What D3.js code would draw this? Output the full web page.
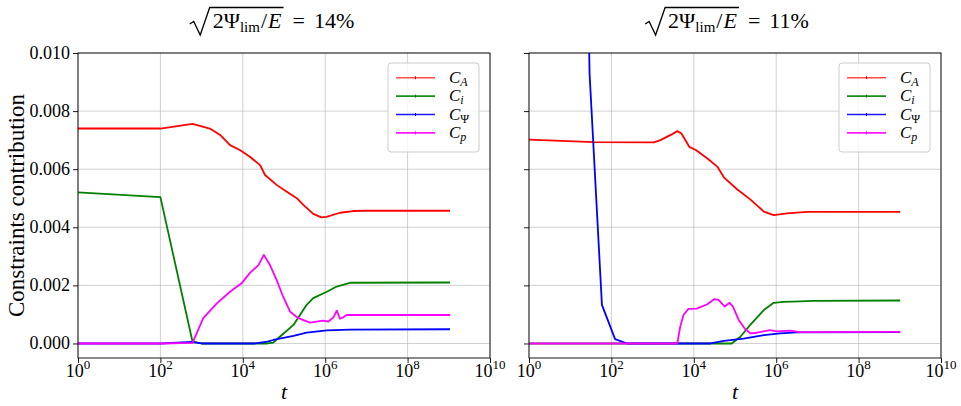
<!DOCTYPE html>
<html><head><meta charset="utf-8">
<script src="https://cdn.jsdelivr.net/npm/d3@7"></script>
<style>body{margin:0;background:#fff}svg{display:block}</style>
</head><body>
<svg id="chart" width="961" height="406"></svg>
<script>
// ---------- data ----------
const xTickExponents = [0, 2, 4, 6, 8, 10];
const yTickValues = [0, 0.002, 0.004, 0.006, 0.008, 0.010];
const seriesSubscripts = ["A", "i", "Ψ", "p"];
const seriesColors = ["#ff0000", "#008000", "#0000ff", "#ff00ff"];
const panelPercents = ["14%", "11%"];

// left panel (14%) : exponents of t (log10 t) and values
const leftCA_logt = [0, 2, 2.78, 3.2, 3.45, 3.69, 3.93, 4.17, 4.42, 4.54, 4.82, 5.06, 5.31, 5.47, 5.71, 5.91, 6.03, 6.36, 6.68, 7.0, 9.03];
const leftCA = [0.0074, 0.0074, 0.00756, 0.0074, 0.00718, 0.00683, 0.00666, 0.00643, 0.00614, 0.0058, 0.00546, 0.00523, 0.005, 0.00477, 0.00446, 0.00434, 0.00436, 0.0045, 0.00456, 0.00457, 0.00457];
const leftCi_logt = [0, 2, 2.78, 3.0, 4.0, 4.6, 4.74, 4.9, 5.23, 5.55, 5.71, 6.04, 6.28, 6.6, 9.03];
const leftCi = [0.0052, 0.00504, 0.00006, 0.0, 0.0, 0.0, 0.00003, 0.00023, 0.00064, 0.00133, 0.00156, 0.00178, 0.00196, 0.00209, 0.0021];
const leftCPsi_logt = [0, 2, 2.78, 3.0, 4.3, 4.6, 4.74, 5.23, 5.55, 6.04, 6.6, 9.03];
const leftCPsi = [0, 0, 0.00005, 0.0, 0.0, 0.00006, 0.00012, 0.00026, 0.00037, 0.00045, 0.00048, 0.00049];
const leftCp_logt = [0, 2, 2.78, 3.04, 3.37, 3.69, 3.97, 4.17, 4.38, 4.51, 4.66, 4.82, 4.98, 5.15, 5.35, 5.63, 5.95, 6.07, 6.2, 6.28, 6.36, 6.44, 6.52, 9.03];
const leftCp = [0, 0, 0.00002, 0.00087, 0.00138, 0.00178, 0.00207, 0.00242, 0.0027, 0.00305, 0.0027, 0.00219, 0.00161, 0.00109, 0.00087, 0.00072, 0.00079, 0.00075, 0.0009, 0.00113, 0.00085, 0.0009, 0.00098, 0.00098];

// right panel (11%)
const rightCA_logt = [0, 1.57, 3.03, 3.19, 3.44, 3.6, 3.7, 3.89, 4.05, 4.33, 4.57, 4.73, 5.05, 5.37, 5.7, 5.94, 6.26, 6.75, 9.01];
const rightCA = [0.00702, 0.00693, 0.00692, 0.007, 0.00718, 0.00731, 0.00723, 0.00677, 0.00666, 0.00637, 0.00609, 0.00572, 0.00531, 0.00496, 0.00454, 0.00442, 0.00448, 0.00453, 0.00453];
const rightCi_logt = [0, 4.92, 5.13, 5.37, 5.7, 5.94, 6.18, 6.58, 6.9, 9.01];
const rightCi = [0, 0, 0.00023, 0.00064, 0.00115, 0.0014, 0.00143, 0.00145, 0.00147, 0.00148];
const rightCPsi_logt = [0, 0.58, 1.17, 1.47, 1.77, 2.09, 2.38, 4.4, 4.73, 5.21, 5.7, 6.1, 6.5, 9.01];
const rightCPsi = [5.0, 1.0, 0.035, 0.0093, 0.00133, 0.00015, 0.0, 0.0, 0.00009, 0.00017, 0.00029, 0.00035, 0.00038, 0.00039];
const rightCp_logt = [0, 3.6, 3.67, 3.75, 3.87, 4.07, 4.33, 4.5, 4.6, 4.75, 4.87, 4.95, 5.09, 5.25, 5.37, 5.53, 5.85, 6.02, 6.34, 6.58, 9.01];
const rightCp = [0, 0, 0.00058, 0.00098, 0.00119, 0.0012, 0.00135, 0.00153, 0.0015, 0.00127, 0.0014, 0.00127, 0.00081, 0.00049, 0.00035, 0.00037, 0.00046, 0.00042, 0.00044, 0.00039, 0.0004];

const panels = [
  {pct: panelPercents[0], left: 78, right: 490, titleCx: 272, showY: true,
   series: [[leftCA_logt, leftCA], [leftCi_logt, leftCi], [leftCPsi_logt, leftCPsi], [leftCp_logt, leftCp]]},
  {pct: panelPercents[1], left: 529, right: 941, titleCx: 727, showY: false,
   series: [[rightCA_logt, rightCA], [rightCi_logt, rightCi], [rightCPsi_logt, rightCPsi], [rightCp_logt, rightCp]]}
];

// ---------- drawing ----------
const svg = d3.select("#chart");
svg.append("rect").attr("width", 961).attr("height", 406).attr("fill", "#fff");
const TOP = 53, BOTTOM = 358;
const SERIF = "'Liberation Serif','Times New Roman',serif";
const y = d3.scaleLinear().domain([-0.0005, 0.010]).range([BOTTOM, TOP]);

const defs = svg.append("defs");

function layoutPieces(g, pieces, x0, baseline) {
  let x = x0;
  pieces.forEach(p => {
    x += (p.gapBefore || 0);
    const t = g.append("text")
      .attr("x", x).attr("y", baseline + (p.dy || 0))
      .attr("font-family", SERIF).attr("font-size", p.size)
      .attr("font-style", p.italic ? "italic" : "normal")
      .attr("fill", "#000").text(p.text);
    x += t.node().getComputedTextLength();
  });
  return x;
}

panels.forEach((P, pi) => {
  const x = d3.scaleLog().domain([1, 1e10]).range([P.left, P.right]);
  const g = svg.append("g");

  // grid
  g.append("g").selectAll("line").data(xTickExponents).join("line")
    .attr("x1", d => x(Math.pow(10, d))).attr("x2", d => x(Math.pow(10, d)))
    .attr("y1", TOP).attr("y2", BOTTOM)
    .attr("stroke", "#b0b0b0").attr("stroke-opacity", 0.6).attr("stroke-width", 1);
  g.append("g").selectAll("line").data(yTickValues).join("line")
    .attr("x1", P.left).attr("x2", P.right)
    .attr("y1", d => y(d)).attr("y2", d => y(d))
    .attr("stroke", "#b0b0b0").attr("stroke-opacity", 0.6).attr("stroke-width", 1);

  // clip
  const cid = "clip" + pi;
  defs.append("clipPath").attr("id", cid).append("rect")
    .attr("x", P.left).attr("y", TOP).attr("width", P.right - P.left).attr("height", BOTTOM - TOP);

  const line = d3.line().x(d => x(Math.pow(10, d[0]))).y(d => y(d[1]));
  const lg = g.append("g").attr("clip-path", `url(#${cid})`);
  P.series.forEach((s, si) => {
    const pts = s[0].map((e, k) => [e, s[1][k]]);
    lg.append("path").datum(pts).attr("d", line)
      .attr("fill", "none").attr("stroke", seriesColors[si])
      .attr("stroke-width", 1.8).attr("stroke-linejoin", "round");
  });

  // axes ticks
  const xAxis = d3.axisBottom(x).tickValues(xTickExponents.map(e => Math.pow(10, e)))
    .tickFormat("").tickSize(5).tickSizeOuter(0);
  const xa = g.append("g").attr("transform", `translate(0,${BOTTOM})`).call(xAxis);
  xa.select(".domain").remove();
  xa.selectAll("line").attr("stroke", "#000").attr("stroke-width", 0.9);
  xTickExponents.forEach(e => {
    const t = g.append("text").attr("y", 377).attr("font-family", SERIF).attr("fill", "#000")
      .attr("text-anchor", "middle").attr("x", x(Math.pow(10, e)));
    t.append("tspan").attr("font-size", 18).text("10");
    t.append("tspan").attr("font-size", 13).attr("dy", -8).text(String(e));
  });

  const yAxis = d3.axisLeft(y).tickValues(yTickValues).tickFormat("").tickSize(5).tickSizeOuter(0);
  const ya = g.append("g").attr("transform", `translate(${P.left},0)`).call(yAxis);
  ya.select(".domain").remove();
  ya.selectAll("line").attr("stroke", "#000").attr("stroke-width", 0.9);
  if (P.showY) {
    g.append("g").selectAll("text").data(yTickValues).join("text")
      .attr("x", P.left - 8).attr("y", d => y(d) + 6)
      .attr("text-anchor", "end").attr("font-family", SERIF).attr("font-size", 18)
      .attr("fill", "#000").text(d => d3.format(".3f")(d));
    g.append("text").attr("transform", `translate(24,${(TOP + BOTTOM) / 2}) rotate(-90)`)
      .attr("text-anchor", "middle").attr("font-family", SERIF).attr("font-size", 23)
      .attr("fill", "#000").text("Constraints contribution");
  }

  // spines
  g.append("rect").attr("x", P.left).attr("y", TOP).attr("width", P.right - P.left).attr("height", BOTTOM - TOP)
    .attr("fill", "none").attr("stroke", "#000").attr("stroke-width", 0.9);

  // x label
  g.append("text").attr("x", (P.left + P.right) / 2).attr("y", 399).attr("text-anchor", "middle")
    .attr("font-family", SERIF).attr("font-style", "italic").attr("font-size", 22).attr("fill", "#000").text("t");

  // legend
  const lx = P.right - 102, ly = 63;
  const leg = g.append("g");
  leg.append("rect").attr("x", lx).attr("y", ly).attr("width", 91).attr("height", 89).attr("rx", 3)
    .attr("fill", "#fff").attr("fill-opacity", 0.8).attr("stroke", "#cccccc").attr("stroke-width", 1);
  seriesSubscripts.forEach((sub, si) => {
    const ry = ly + 14.7 + si * 18.4;
    leg.append("line").attr("x1", lx + 8).attr("x2", lx + 47).attr("y1", ry).attr("y2", ry)
      .attr("stroke", seriesColors[si]).attr("stroke-width", 1.6).attr("stroke-opacity", si === 0 ? 0.7 : 0.9);
    leg.append("line").attr("x1", lx + 27.5).attr("x2", lx + 27.5).attr("y1", ry - 1.5).attr("y2", ry + 1.5)
      .attr("stroke", seriesColors[si]).attr("stroke-width", 1);
    const t = leg.append("text").attr("x", lx + 61).attr("y", ry + 5).attr("font-family", SERIF).attr("fill", "#000");
    t.append("tspan").attr("font-size", 17).attr("font-style", "italic").text("C");
    t.append("tspan").attr("font-size", 12).attr("dy", 3).attr("font-style", sub === "Ψ" ? "normal" : "italic").text(sub);
  });

  // title: sqrt(2Ψ_lim / E) = pct
  const tg = g.append("g");
  const base = 28;
  const radStart = 23;
  const radEndText = layoutPieces(tg, [
    {text: "2Ψ", size: 22},
    {text: "lim", size: 15, dy: 4},
    {text: "/", size: 22, gapBefore: 1},
    {text: "E", size: 22, italic: true, gapBefore: 1}
  ], radStart, base);
  const total = layoutPieces(tg, [
    {text: "=", size: 22, gapBefore: 9},
    {text: P.pct, size: 22, gapBefore: 9}
  ], radEndText + 2, base);
  const radEnd = radEndText + 2;
  tg.append("path")
    .attr("d", `M0,24 L4,21.5 L10.5,35 L20,7.5 L${radEnd},7.5`)
    .attr("fill", "none").attr("stroke", "#000").attr("stroke-width", 1.3).attr("stroke-linejoin", "miter");
  tg.attr("transform", `translate(${P.titleCx - total / 2},0)`);
});
</script>
</body></html>
